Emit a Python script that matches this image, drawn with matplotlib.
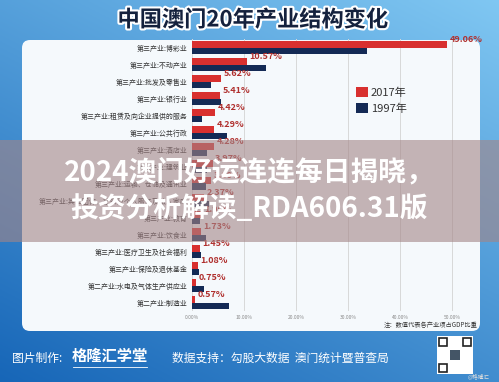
import numpy as np
import matplotlib.pyplot as plt
import matplotlib.patheffects as pe
from matplotlib.patches import FancyBboxPatch, Rectangle

plt.rcParams['font.family'] = ['Noto Sans CJK SC', 'DejaVu Sans']

# data (share of GDP, %)
categories = ['第三产业:博彩业', '第三产业:不动产业', '第三产业:批发及零售业', '第三产业:银行业',
              '第三产业:租赁及向企业提供的服务', '第三产业:公共行政', '第三产业:酒店业',
              '第二产业:建筑业', '第三产业:运输、仓储及通讯业', '第三产业:其他团体、社会及个人服务及私人家庭',
              '第三产业:教育', '第三产业:饮食业', '第三产业:医疗卫生及社会福利',
              '第三产业:保险及退休基金', '第二产业:水电及气体生产供应业', '第二产业:制造业']
v2017 = [49.06, 10.57, 5.62, 5.41, 4.42, 4.29, 4.28, 3.97, 3.60, 2.37, 1.90, 1.73, 1.45, 1.08, 0.75, 0.57]
v1997 = [33.6, 14.3, 3.6, 5.5, 1.9, 6.7, 2.9, 2.8, 2.7, 3.2, 1.5, 2.7, 1.8, 1.4, 2.3, 7.1]
xticks = [0, 10, 20, 30, 40, 50]

W, H = 499, 382
fig = plt.figure(figsize=(W / 100, H / 100), dpi=100)

# background gradient
bg = fig.add_axes([0, 0, 1, 1])
bg.set_axis_off()
gx = np.linspace(0, 1, 200)
gy = np.linspace(0, 1, 160)
GX, GY = np.meshgrid(gx, gy)
t = 0.6 * GY + 0.4 * GX
c1 = np.array([0.09, 0.40, 0.72])
c2 = np.array([0.50, 0.78, 0.95])
img = c1[None, None, :] * (1 - t[..., None]) + c2[None, None, :] * t[..., None]
bg.imshow(img, extent=[0, W, 0, H], aspect='auto', origin='upper')
bg.set_xlim(0, W)
bg.set_ylim(H, 0)

# white panel
bg.add_patch(FancyBboxPatch((22, 40), 458, 291, boxstyle='round,pad=0,rounding_size=8',
                            fc='#f5f9fc', ec='none'))

# title
bg.text(253, 20, '中国澳门20年产业结构变化', ha='center', va='center', fontsize=16,
        fontweight='bold', color='#14213d',
        path_effects=[pe.withStroke(linewidth=3, foreground='white')])

# footer
bg.text(12, 358, '图片制作:', ha='left', va='center', fontsize=8.5, color='white')
bg.text(72, 356, '格隆汇学堂', ha='left', va='center', fontsize=11, fontweight='bold', color='white')
bg.plot([73, 147], [367, 367], color='white', lw=0.6)
bg.text(172, 358, '数据支持：勾股大数据  澳门统计暨普查局', ha='left', va='center', fontsize=8.5, color='white')
bg.add_patch(Rectangle((437, 336), 36, 38, fc='white', ec='none'))
for (qx, qy) in [(439, 338), (463, 338), (439, 364)]:
    bg.add_patch(Rectangle((qx, qy), 8, 8, fc='none', ec='#222222', lw=1.2))
bg.add_patch(Rectangle((450, 350), 10, 10, fc='#445566', ec='none'))
bg.text(490, 379, '@格隆汇', ha='right', va='bottom', fontsize=4, color='#dddddd')

# note
bg.text(478, 325, '注：数值代表各产业项占GDP比重', ha='right', va='center', fontsize=4.5, color='#333333')

# chart
ax = fig.add_axes([192 / W, 1 - 311 / H, 286 / W, 272 / H])
ax.set_facecolor('none')
y = np.arange(len(categories))
h = 0.38
ax.barh(y - h / 2, v2017, height=h, color='#d8302f', label='2017年', zorder=3)
ax.barh(y + h / 2, v1997, height=h, color='#142a55', label='1997年', zorder=3)
for yi, v in zip(y, v2017):
    ax.text(v + 0.5, yi - 0.45, f'{v:.2f}%', ha='left', va='center', fontsize=6.5,
            fontweight='bold', color='#b0302e', zorder=4)
ax.set_ylim(len(categories) - 0.5, -0.5)
ax.set_xlim(0, 55)
ax.set_yticks(y)
ax.set_yticklabels(categories, fontsize=5, color='#333333')
ax.set_xticks(xticks)
ax.set_xticklabels([f'{v:.2f}%' for v in xticks], fontsize=3.5, color='#888888')
ax.tick_params(length=0, pad=3)
ax.grid(axis='x', color='#d8d8d8', lw=0.7, zorder=0)
for s in ax.spines.values():
    s.set_visible(False)
ax.legend(loc='upper left', bbox_to_anchor=(0.54, 0.86), frameon=False, fontsize=8,
          handlelength=1.0, handleheight=1.0, handletextpad=0.3, labelspacing=0.5,
          labelcolor='#333333')

# overlay banner
ov = fig.add_axes([0, 0, 1, 1])
ov.set_axis_off()
ov.set_xlim(0, W)
ov.set_ylim(H, 0)
ov.add_patch(Rectangle((0, 140), W, 102, fc='#a38587', ec='none', alpha=0.6))
ov.text(249, 172, '2024澳门好运连连每日揭晓，', ha='center', va='center', fontsize=20,
        fontweight='bold', color='white')
ov.text(249, 209, '投资分析解读_RDA606.31版', ha='center', va='center', fontsize=20,
        fontweight='bold', color='white')

fig.savefig('out.png', dpi=100)
